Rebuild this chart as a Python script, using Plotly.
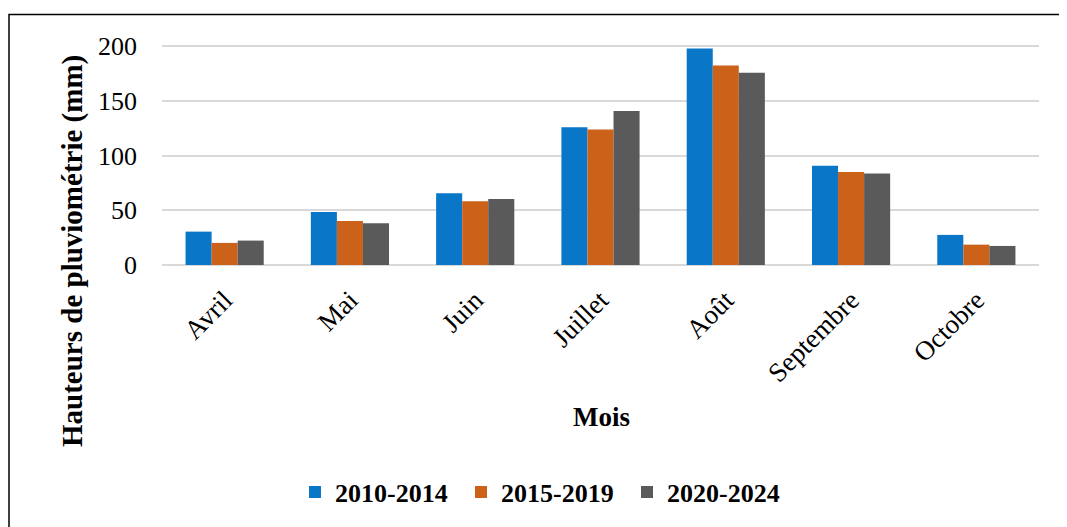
import plotly.graph_objects as go

months = ["Avril", "Mai", "Juin", "Juillet", "Août", "Septembre", "Octobre"]
s2010_2014 = [30.5, 48.5, 65.6, 125.8, 197.9, 90.7, 27.5]
s2015_2019 = [20.2, 40.3, 58.3, 123.7, 182.3, 84.9, 18.6]
s2020_2024 = [22.3, 38.2, 60.2, 140.8, 175.6, 83.7, 17.4]
series_names = ["2010-2014", "2015-2019", "2020-2024"]
colors = ["#0a76c8", "#cc6119", "#5a5a5a"]
y_ticks = [0, 50, 100, 150, 200]

FONT = "Liberation Serif"
OFF = 8  # page body margin
W, H = 1067 - OFF, 527 - OFF
# target plot-area edges in screen pixels
PL, PR, PT, PB = 162, 1039, 45, 265
pw = PR - PL
ph = PB - PT

def px_x(x):
    return (x - PL) / pw

def px_y(y):
    return (PB - y) / ph

fig = go.Figure()
for name, vals, col in zip(series_names, [s2010_2014, s2015_2019, s2020_2024], colors):
    fig.add_trace(go.Bar(x=months, y=vals, name=name, marker=dict(color=col, line=dict(width=0))))

fig.update_layout(
    width=W, height=H,
    margin=dict(l=PL - OFF, r=1067 - PR, t=PT - OFF, b=527 - PB, autoexpand=False),
    plot_bgcolor="white", paper_bgcolor="white",
    barmode="group", bargap=0.376, bargroupgap=0,
    font=dict(family=FONT, color="black"),
    showlegend=True,
    legend=dict(
        orientation="h", xref="container", yref="container",
        x=(295 - OFF) / W, xanchor="left", y=1 - (492 - OFF) / H, yanchor="middle",
        font=dict(family=FONT, size=26, color="black", weight="bold"),
        entrywidth=121, entrywidthmode="pixels", itemwidth=30,
        bgcolor="rgba(0,0,0,0)",
    ),
    xaxis=dict(
        tickangle=-45, tickfont=dict(family=FONT, size=27, color="black"),
        showgrid=False, showline=False, ticks="", ticklabelstandoff=13, automargin=False,
    ),
    yaxis=dict(
        range=[0, 201], tickvals=y_ticks, ticktext=[str(v) for v in y_ticks],
        tickfont=dict(family=FONT, size=26, color="black"),
        showgrid=True, gridcolor="#d9d9d9", gridwidth=1.5,
        zeroline=True, zerolinecolor="#d9d9d9", zerolinewidth=1.5,
        showline=False, ticks="", ticklen=0, ticklabelstandoff=24, automargin=False,
    ),
)

fig.add_annotation(
    text="<b>Hauteurs de pluviométrie (mm)</b>", textangle=-90,
    xref="paper", yref="paper", x=px_x(72), y=px_y(251),
    xanchor="center", yanchor="middle", showarrow=False,
    font=dict(family=FONT, size=29, color="black"),
)
fig.add_annotation(
    text="<b>Mois</b>",
    xref="paper", yref="paper", x=px_x(601), y=px_y(417),
    xanchor="center", yanchor="middle", showarrow=False,
    font=dict(family=FONT, size=27, color="black"),
)
fig.add_shape(
    type="rect", xref="paper", yref="paper",
    x0=px_x(9), x1=px_x(1080), y0=px_y(545), y1=px_y(14.5),
    line=dict(color="black", width=1.5), fillcolor="rgba(0,0,0,0)", layer="below",
)

fig.write_html("out.html")
